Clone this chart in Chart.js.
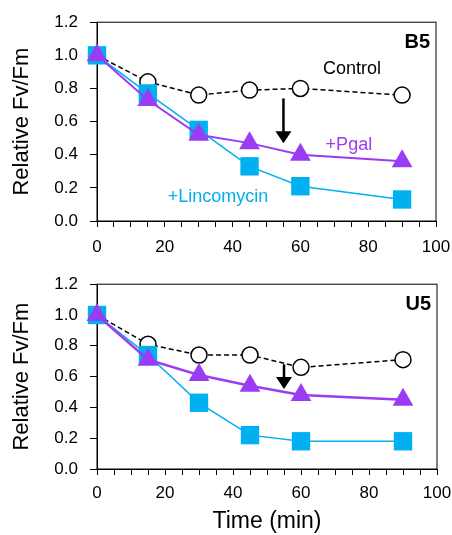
<!DOCTYPE html>
<html>
<head>
<meta charset="utf-8">
<script src="https://cdn.jsdelivr.net/npm/chart.js@4.4.1/dist/chart.umd.min.js"></script>
<style>
  body { margin: 0; background: #fff; }
  .panel { position: absolute; left: 0; width: 452px; }
</style>
</head>
<body>
<div class="panel" style="top:0;height:262px"><canvas id="chartB5" width="452" height="262"></canvas></div>
<div class="panel" style="top:262px;height:273px"><canvas id="chartU5" width="452" height="273"></canvas></div>
<script>
const times = [0, 15, 30, 45, 60, 90];

const b5Control = [1.0, 0.84, 0.76, 0.79, 0.80, 0.76];
const b5Lincomycin = [1.0, 0.77, 0.55, 0.33, 0.21, 0.13];
const b5Pgal = [1.0, 0.73, 0.52, 0.47, 0.40, 0.36];

const u5Control = [1.0, 0.81, 0.74, 0.74, 0.66, 0.71];
const u5Lincomycin = [1.0, 0.74, 0.43, 0.22, 0.18, 0.18];
const u5Pgal = [1.0, 0.71, 0.61, 0.54, 0.48, 0.45];

const xTicks = [0, 20, 40, 60, 80, 100];
const yTicks = [0.0, 0.2, 0.4, 0.6, 0.8, 1.0, 1.2];

const FONT = "'Liberation Sans', Arial, sans-serif";
const CYAN = "#00b0f0";
const PURPLE = "#9b3cf5";

function pts(values) {
  return times.map((t, i) => ({ x: t, y: values[i] }));
}

// box, annotations and arrow drawn on top of the chart
const panelDecor = {
  id: "panelDecor",
  beforeDatasetsDraw(chart) {
    const a = chart.chartArea;
    const ctx = chart.ctx;
    ctx.save();
    ctx.strokeStyle = "#000";
    ctx.lineWidth = 1;
    ctx.strokeRect(a.left, a.top, a.right - a.left, a.bottom - a.top);
    ctx.restore();
  },
  afterDatasetsDraw(chart, args, opts) {
    const a = chart.chartArea;
    const ctx = chart.ctx;
    const xs = chart.scales.x, ys = chart.scales.y;
    ctx.save();
    // panel tag
    ctx.font = "bold 20px " + FONT;
    ctx.fillStyle = "#000";
    ctx.textAlign = "right";
    ctx.textBaseline = "middle";
    ctx.fillText(opts.tag, a.right - 6, a.top + 20);
    // series labels
    ctx.font = "18px " + FONT;
    ctx.textAlign = "center";
    (opts.labels || []).forEach(l => {
      ctx.fillStyle = l.color;
      ctx.fillText(l.text, xs.getPixelForValue(l.x), ys.getPixelForValue(l.y));
    });
    // arrow
    if (opts.arrow) {
      const x = xs.getPixelForValue(opts.arrow.x);
      const y1 = ys.getPixelForValue(opts.arrow.from);
      const y2 = ys.getPixelForValue(opts.arrow.to);
      ctx.strokeStyle = "#000";
      ctx.fillStyle = "#000";
      ctx.lineWidth = 2.5;
      ctx.beginPath();
      ctx.moveTo(x, y1);
      ctx.lineTo(x, y2 - 10);
      ctx.stroke();
      ctx.beginPath();
      ctx.moveTo(x - 8, y2 - 12);
      ctx.lineTo(x + 8, y2 - 12);
      ctx.lineTo(x, y2);
      ctx.closePath();
      ctx.fill();
    }
    ctx.restore();
  }
};

function makeChart(id, control, linc, pgal, cfg) {
  const datasets = [
    {
      label: "Control",
      data: pts(control),
      borderColor: "#000",
      borderWidth: 1.5,
      borderDash: [5, 3],
      pointStyle: "circle",
      pointRadius: 8,
      pointBackgroundColor: "#fff",
      pointBorderColor: "#000",
      pointBorderWidth: 1.5,
      order: 3
    },
    {
      label: "+Lincomycin",
      data: pts(linc),
      borderColor: CYAN,
      borderWidth: 1.5,
      pointStyle: "rect",
      pointRadius: 13,
      pointBackgroundColor: CYAN,
      pointBorderColor: CYAN,
      pointBorderWidth: 0,
      order: 2
    },
    {
      label: "+Pgal",
      data: pts(pgal),
      borderColor: PURPLE,
      borderWidth: cfg.pgalWidth,
      pointStyle: "triangle",
      pointRadius: 12,
      pointBackgroundColor: PURPLE,
      pointBorderColor: PURPLE,
      pointBorderWidth: 0,
      order: 1
    }
  ];
  datasets.forEach(d => {
    d.showLine = true;
    d.fill = false;
    d.tension = 0;
    d.clip = false;
    d.pointHoverRadius = d.pointRadius;
  });

  return new Chart(document.getElementById(id), {
    type: "scatter",
    data: { datasets: datasets },
    options: {
      responsive: false,
      animation: false,
      events: [],
      layout: { padding: { top: cfg.padTop, right: cfg.padRight, left: 0, bottom: 0 } },
      plugins: {
        legend: { display: false },
        tooltip: { enabled: false },
        panelDecor: cfg.decor
      },
      scales: {
        x: {
          type: "linear",
          min: 0,
          max: 100,
          afterFit: s => {
            s.height = cfg.xHeight;
            s.paddingLeft = 0;
            s.paddingRight = 0;
          },
          border: { display: true, color: "#000", width: 1 },
          grid: { drawOnChartArea: false, color: "#000", tickLength: 6, tickWidth: 1 },
          ticks: {
            stepSize: 5,
            autoSkip: false,
            maxRotation: 0,
            color: "#000",
            padding: cfg.xTickPad,
            font: { family: FONT, size: 17 },
            callback: v => (xTicks.includes(v) ? String(v) : "")
          },
          title: {
            display: cfg.showXTitle,
            text: "Time (min)",
            color: "#000",
            font: { family: FONT, size: 23 },
            padding: { top: 0, bottom: 0 }
          }
        },
        y: {
          min: 0,
          max: 1.2,
          afterFit: s => { s.width = 97; },
          afterBuildTicks: s => { s.ticks = yTicks.map(v => ({ value: v })); },
          border: { display: true, color: "#000", width: 1 },
          grid: { drawOnChartArea: false, color: "#000", tickLength: 7, tickWidth: 1 },
          ticks: {
            color: "#000",
            padding: 12,
            font: { family: FONT, size: 17 },
            callback: v => v.toFixed(1)
          },
          title: {
            display: true,
            text: "Relative Fv/Fm",
            color: "#000",
            font: { family: FONT, size: 22 },
            padding: { top: 9, bottom: 0 }
          }
        }
      }
    },
    plugins: [panelDecor]
  });
}

makeChart("chartB5", b5Control, b5Lincomycin, b5Pgal, {
  padTop: 22, padRight: 16, xHeight: 41, xTickPad: 10, showXTitle: false, pgalWidth: 2,
  decor: {
    tag: "B5",
    labels: [
      { text: "Control", x: 75.2, y: 0.92, color: "#000" },
      { text: "+Pgal", x: 74.3, y: 0.46, color: PURPLE },
      { text: "+Lincomycin", x: 35.7, y: 0.145, color: CYAN }
    ],
    arrow: { x: 55, from: 0.74, to: 0.47 }
  }
});

makeChart("chartU5", u5Control, u5Lincomycin, u5Pgal, {
  padTop: 6, padRight: 15, xHeight: 66, xTickPad: 8, showXTitle: true, pgalWidth: 2.5,
  decor: {
    tag: "U5",
    labels: [],
    arrow: { x: 55, from: 0.68, to: 0.52 }
  }
});
</script>
</body>
</html>
